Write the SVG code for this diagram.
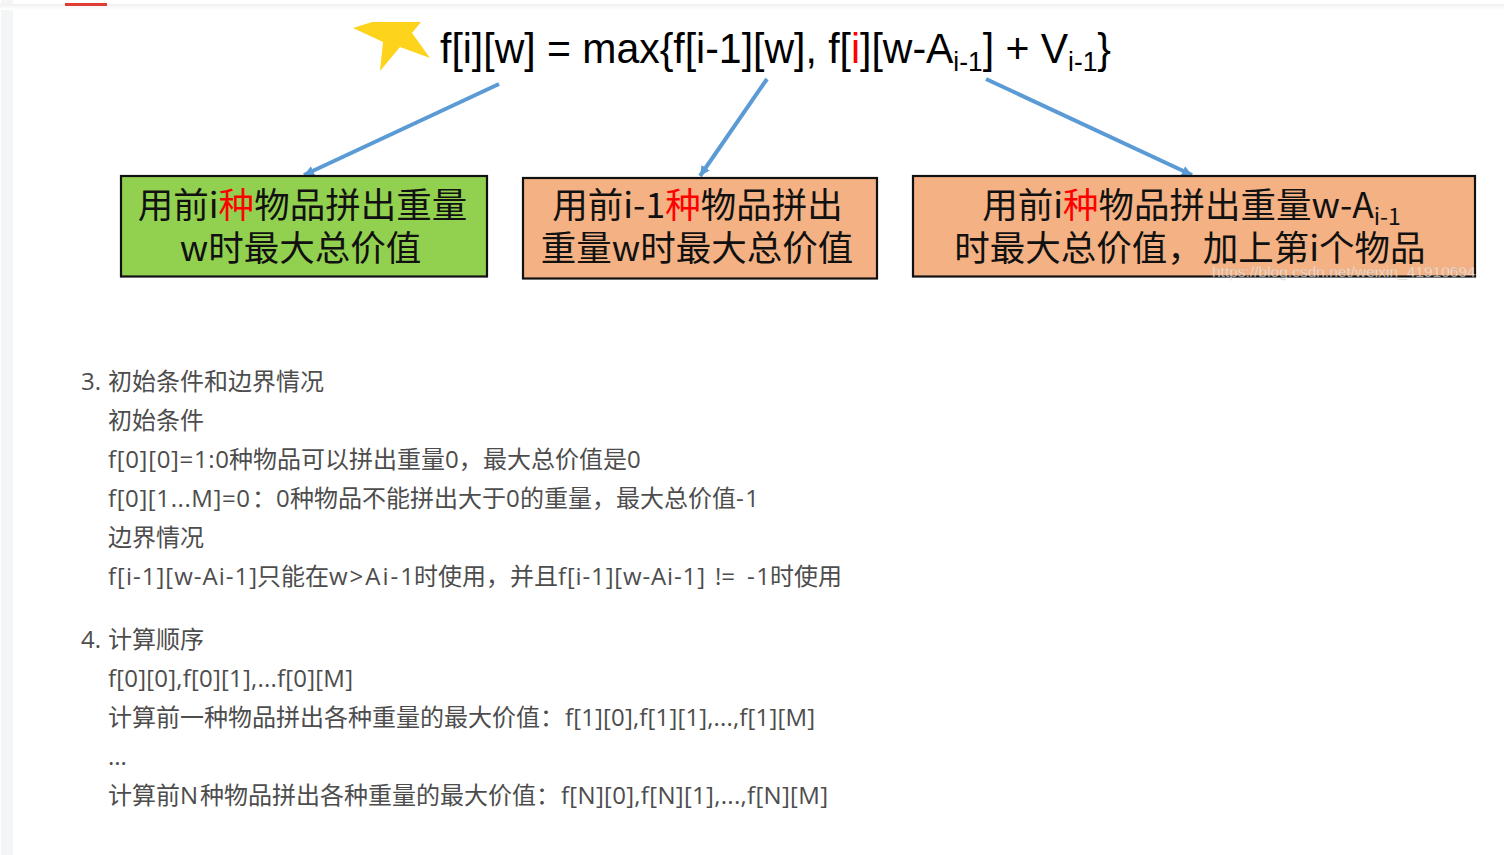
<svg xmlns="http://www.w3.org/2000/svg" width="1504" height="855" viewBox="0 0 1504 855">
<defs>
<linearGradient id="topfade" x1="0" y1="0" x2="0" y2="1"><stop offset="0" stop-color="#f0f0f0"/><stop offset="1" stop-color="#ffffff"/></linearGradient>
<marker id="ah" markerUnits="userSpaceOnUse" markerWidth="12" markerHeight="12" refX="10" refY="5" orient="auto"><path d="M0,0L10,5L0,10Z" fill="#5b9bd5"/></marker>
</defs>
<style>
.f{font-family:"Liberation Sans",Arial,sans-serif;fill:#000}
.box{font-family:"Noto Sans CJK SC","Liberation Sans",sans-serif;font-size:35.5px;fill:#111;text-anchor:middle}
.t{font-family:"Open Sans","Noto Sans CJK SC",sans-serif;font-size:24px;fill:#4d4d4d}
.n{stroke:#111;stroke-width:2.200}
.r{fill:#f00}
.c{fill:none;stroke:#5b9bd5;stroke-width:4;marker-end:url(#ah)}
</style>
<rect width="1504" height="855" fill="#fff"/>
<rect x="1" y="0" width="12" height="855" fill="#f4f5f7"/>
<rect x="0" y="4" width="1504" height="6" fill="url(#topfade)"/>
<rect x="65" y="3" width="42" height="3" fill="#e03c36"/>
<g id="star"><polygon points="353,28 372,22 421,22 412,33 430,58 400,47 380,71 383,42" fill="#fdd31c"/></g>
<g id="formula">
<text class="f" x="440" y="63" font-size="42" textLength="671" lengthAdjust="spacingAndGlyphs">f[i][w] = max{f[i-1][w], f[<tspan class="r">i</tspan>][w-A<tspan font-size="27" dy="8">i-1</tspan><tspan dy="-8">] + V</tspan><tspan font-size="27" dy="8">i-1</tspan><tspan dy="-8">}</tspan></text>
</g>
<g id="connectors">
<line class="c" x1="499" y1="84" x2="304" y2="175"/>
<line class="c" x1="767" y1="79" x2="700" y2="176"/>
<line class="c" x1="986" y1="79" x2="1192" y2="175"/>
</g>
<g id="node1">
<rect class="n" x="121" y="176" width="366" height="100.500" fill="#92d050"/>
<text class="box" x="302.500" y="218">用前i<tspan class="r">种</tspan>物品拼出重量</text>
<text class="box" x="300.500" y="261">w时最大总价值</text>
</g>
<g id="node2">
<rect class="n" x="523" y="178" width="354" height="100.500" fill="#f4b183"/>
<text class="box" x="697.500" y="218">用前i-1<tspan class="r">种</tspan>物品拼出</text>
<text class="box" x="697" y="261">重量w时最大总价值</text>
</g>
<g id="node3">
<rect class="n" x="913" y="176" width="562" height="100.500" fill="#f4b183"/>
<text class="box" x="1191.500" y="218">用前i<tspan class="r">种</tspan>物品拼出重量w-A<tspan font-size="23" dy="7">i-1</tspan></text>
<text class="box" x="1190" y="261">时最大总价值，加上第i个物品</text>
</g>
<text x="1212" y="277" font-family="Liberation Sans,sans-serif" font-size="15.500" fill="#fff" fill-opacity=".6" stroke="#999" stroke-width=".3" stroke-opacity=".5">https://blog.csdn.net/weixin_41910694</text>
<g id="body" class="t">
<text x="81" y="390">3. <tspan x="108">初始条件和边界情况</tspan></text>
<text x="108" y="429">初始条件</text>
<text x="108" y="468"><tspan textLength="121">f[0][0]=1:0</tspan><tspan x="229">种物品可以拼出重量</tspan><tspan x="445">0，</tspan><tspan x="483">最大总价值是</tspan><tspan x="627">0</tspan></text>
<text x="108" y="507"><tspan textLength="142">f[0][1...M]=0</tspan><tspan x="252">：</tspan><tspan x="276">0</tspan><tspan x="290">种物品不能拼出大于</tspan><tspan x="506">0</tspan><tspan x="520">的重量，</tspan><tspan x="616">最大总价值</tspan><tspan x="736" textLength="23">-1</tspan></text>
<text x="108" y="546">边界情况</text>
<text x="108" y="585"><tspan textLength="149">f[i-1][w-Ai-1]</tspan><tspan x="257">只能在</tspan><tspan x="329" textLength="85">w&gt;Ai-1</tspan><tspan x="414">时使用，</tspan><tspan x="510">并且</tspan><tspan x="558" textLength="147">f[i-1][w-Ai-1]</tspan><tspan x="715" textLength="20">!=</tspan><tspan x="747" textLength="23">-1</tspan><tspan x="770">时使用</tspan></text>
<text x="81" y="648">4. <tspan x="108">计算顺序</tspan></text>
<text x="108" y="687" textLength="245">f[0][0],f[0][1],...f[0][M]</text>
<text x="108" y="726">计算前一种物品拼出各种重量的最大价值：<tspan x="565" textLength="250">f[1][0],f[1][1],...,f[1][M]</tspan></text>
<text x="108" y="765">...</text>
<text x="108" y="804">计算前<tspan x="180">N</tspan><tspan x="200">种物品拼出各种重量的最大价值：</tspan><tspan x="561" textLength="267">f[N][0],f[N][1],...,f[N][M]</tspan></text>
</g>
</svg>
